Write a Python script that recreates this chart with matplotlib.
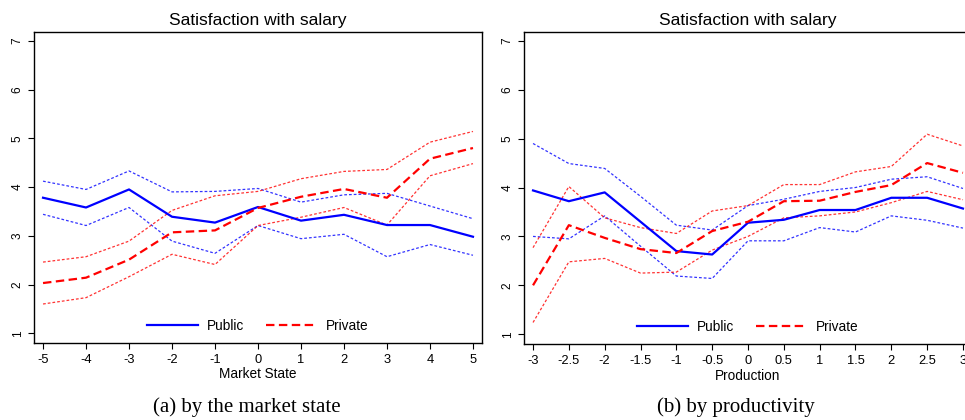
import matplotlib
matplotlib.use("Agg")
import matplotlib.pyplot as plt

plt.rcParams['font.family'] = ['Liberation Sans', 'DejaVu Sans']

# ---- panel (a): by the market state ----
market_x = [-5, -4, -3, -2, -1, 0, 1, 2, 3, 4, 5]
pub_a_mean = [3.78, 3.58, 3.95, 3.39, 3.27, 3.59, 3.31, 3.43, 3.22, 3.22, 2.98]
pub_a_hi = [4.12, 3.95, 4.33, 3.90, 3.91, 3.97, 3.69, 3.84, 3.87, 3.61, 3.35]
pub_a_lo = [3.44, 3.21, 3.58, 2.89, 2.64, 3.21, 2.94, 3.03, 2.57, 2.82, 2.60]
pri_a_mean = [2.03, 2.14, 2.51, 3.07, 3.11, 3.57, 3.80, 3.96, 3.78, 4.58, 4.80]
pri_a_hi = [2.46, 2.57, 2.89, 3.52, 3.82, 3.91, 4.17, 4.32, 4.36, 4.92, 5.14]
pri_a_lo = [1.60, 1.73, 2.16, 2.62, 2.41, 3.21, 3.38, 3.58, 3.22, 4.23, 4.48]
market_ticks = ["-5", "-4", "-3", "-2", "-1", "0", "1", "2", "3", "4", "5"]

# ---- panel (b): by productivity ----
prod_x = [-3, -2.5, -2, -1.5, -1, -0.5, 0, 0.5, 1, 1.5, 2, 2.5, 3]
pub_b_mean = [3.94, 3.72, 3.90, 3.30, 2.70, 2.63, 3.28, 3.34, 3.54, 3.54, 3.79, 3.79, 3.57]
pub_b_hi = [4.90, 4.49, 4.39, 3.82, 3.23, 3.13, 3.63, 3.76, 3.92, 4.00, 4.17, 4.22, 3.98]
pub_b_lo = [3.00, 2.95, 3.42, 2.80, 2.19, 2.14, 2.91, 2.91, 3.18, 3.09, 3.42, 3.33, 3.17]
pri_b_mean = [2.00, 3.23, 2.97, 2.74, 2.66, 3.11, 3.30, 3.72, 3.73, 3.91, 4.05, 4.50, 4.30]
pri_b_hi = [2.77, 4.02, 3.38, 3.18, 3.06, 3.52, 3.63, 4.06, 4.06, 4.32, 4.43, 5.09, 4.85]
pri_b_lo = [1.24, 2.48, 2.55, 2.25, 2.27, 2.72, 3.00, 3.38, 3.42, 3.50, 3.69, 3.92, 3.75]
prod_ticks = ["-3", "-2.5", "-2", "-1.5", "-1", "-0.5", "0", "0.5", "1", "1.5", "2", "2.5", "3"]

y_ticks = [1, 2, 3, 4, 5, 6, 7]

W, H = 965, 420
fig = plt.figure(figsize=(W / 100, H / 100), dpi=100)


def px_axes(x0, y0, x1, y1):
    return fig.add_axes([x0 / W, 1 - y1 / H, (x1 - x0) / W, (y1 - y0) / H])


def draw(ax, x, pm, ph, pl, rm, rh, rl, ticks, xlabel, xlim):
    blue = "#0000FF"
    red = "#FF0000"
    ci_kw = dict(lw=0.9, dashes=(2.2, 1.6))
    ax.plot(x, ph, color=blue, alpha=0.8, **ci_kw)
    ax.plot(x, pl, color=blue, alpha=0.8, **ci_kw)
    ax.plot(x, rh, color=red, alpha=0.8, **ci_kw)
    ax.plot(x, rl, color=red, alpha=0.8, **ci_kw)
    l1, = ax.plot(x, pm, color=blue, lw=1.6, label="Public")
    l2, = ax.plot(x, rm, color=red, lw=1.6, dashes=(3.8, 2.0), label="Private")
    ax.set_xlim(*xlim)
    ax.set_ylim(0.8, 7.18)
    ax.set_xticks(x)
    ax.set_xticklabels(ticks, fontsize=9.3)
    ax.set_yticks(y_ticks)
    ax.set_yticklabels([str(v) for v in y_ticks], fontsize=8.5, rotation=90, va="center")
    ax.tick_params(axis="x", direction="out", length=4.5, width=0.8, pad=3.5)
    ax.tick_params(axis="y", direction="out", length=4.5, width=0.8, pad=3)
    for s in ax.spines.values():
        s.set_linewidth(1.0)
    ax.set_title("Satisfaction with salary", fontsize=12.5, pad=5)
    ax.set_xlabel(xlabel, fontsize=9.8, labelpad=1)
    ax.legend(handles=[l1, l2], loc="lower center", ncol=2, frameon=False,
              fontsize=9.8, handlelength=3.7, columnspacing=1.6,
              handletextpad=0.7, bbox_to_anchor=(0.5, 0.0), borderaxespad=0.35)


ax1 = px_axes(34, 32, 482, 343)
draw(ax1, market_x, pub_a_mean, pub_a_hi, pub_a_lo, pri_a_mean, pri_a_hi, pri_a_lo,
     market_ticks, "Market State", (-5.21, 5.21))

ax2 = px_axes(524, 32, 972, 344)
draw(ax2, prod_x, pub_b_mean, pub_b_hi, pub_b_lo, pri_b_mean, pri_b_hi, pri_b_lo,
     prod_ticks, "Production", (-3.126, 3.126))

fig.text(247 / W, 1 - 407 / H, "(a) by the market state", ha="center", va="center",
         fontsize=15, family=["Liberation Serif", "DejaVu Serif"])
fig.text(736 / W, 1 - 407 / H, "(b) by productivity", ha="center", va="center",
         fontsize=15, family=["Liberation Serif", "DejaVu Serif"])

fig.savefig("out.png", dpi=100)
